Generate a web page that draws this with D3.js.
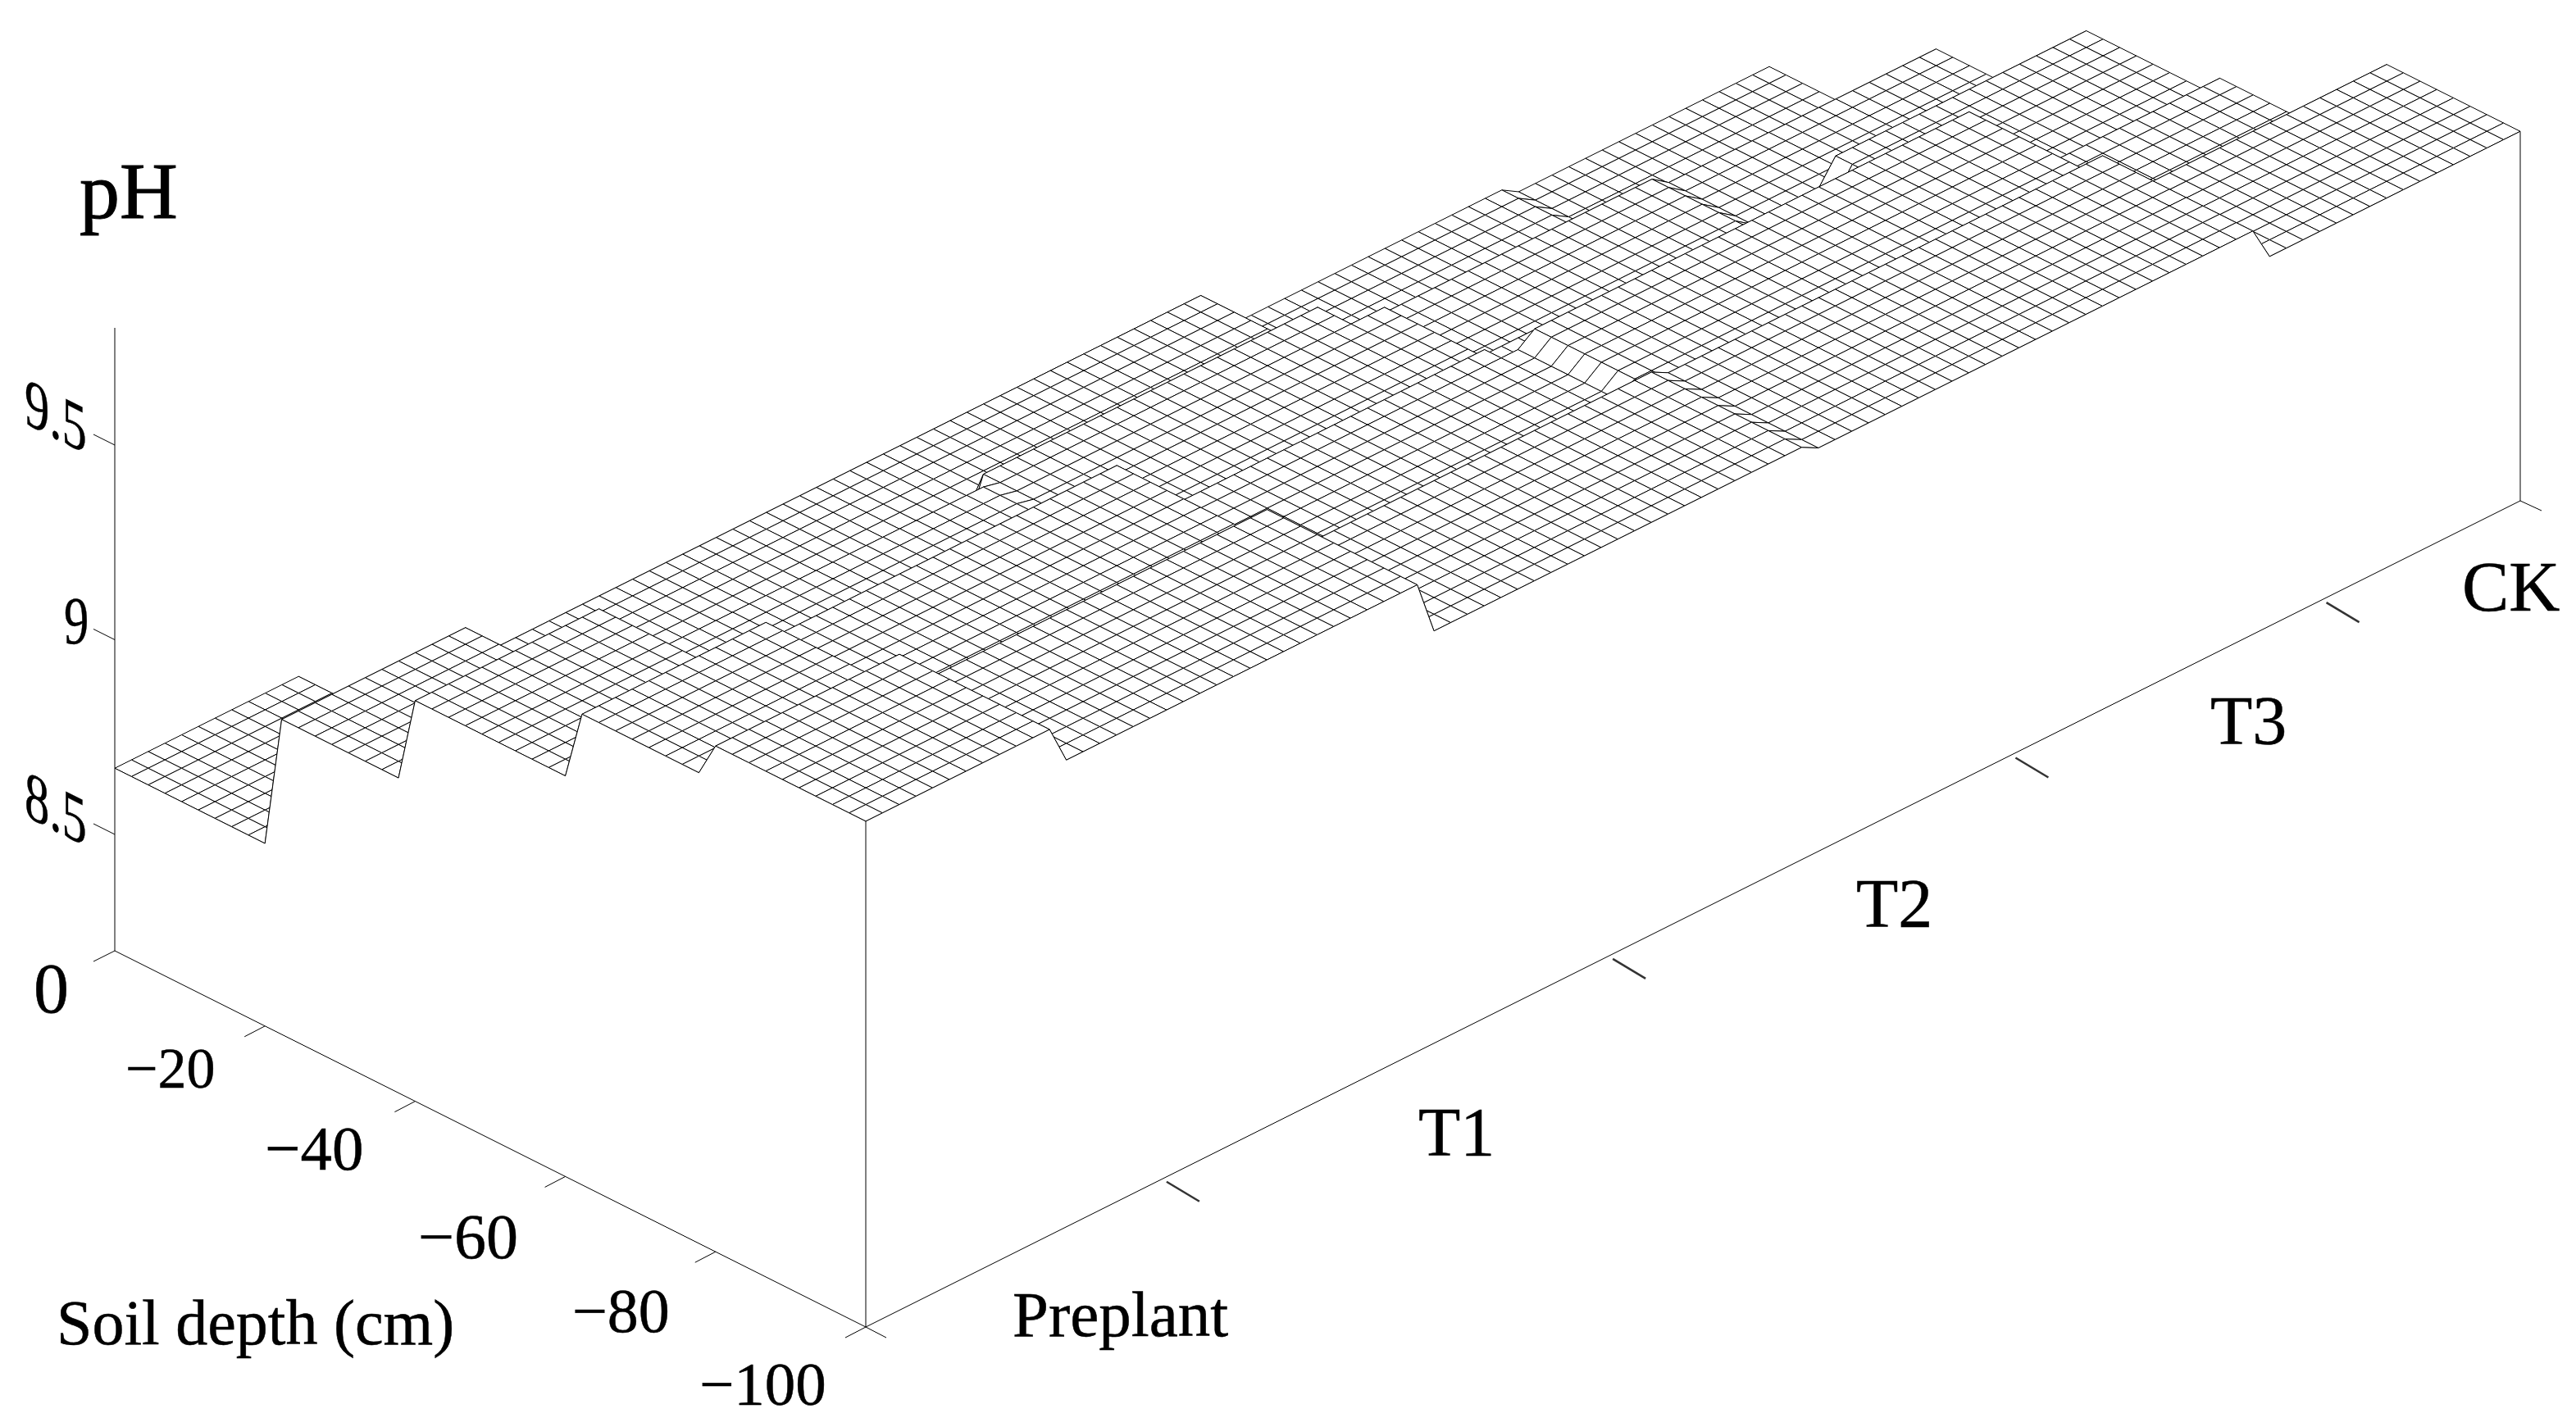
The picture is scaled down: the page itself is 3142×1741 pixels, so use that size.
<!DOCTYPE html>
<html>
<head>
<meta charset="utf-8">
<script src="https://cdnjs.cloudflare.com/ajax/libs/d3/7.8.5/d3.min.js"></script>
<style>
    html, body { margin: 0; padding: 0; background: #fff; }
    text { font-family: "Liberation Serif", serif; fill: #000; stroke: #000; stroke-width: 0.5; }
</style>
</head>
<body>
<div id="chart"></div>
<script>
const treatments = ["Preplant", "T1", "T2", "T3", "CK"];
const depth_ticks = [-20, -40, -60, -80, -100];
const ph_ticks = [8.5, 9, 9.5];

// pH, one value per soil layer (0-20 ... 80-100 cm)
const ph_preplant = [8.67, 9.01, 9.23, 9.41, 9.50];
const ph_t1 = [8.43, 8.92, 9.05, 9.32, 9.40];
const ph_t2 = [8.41, 8.92, 9.04, 9.146, 9.26];
const ph_t3 = [8.376, 8.64, 8.79, 9.178, 9.237];
const ph_ck = [8.35, 8.61, 8.85, 8.90, 9.15];
const ph_table = [ph_preplant, ph_t1, ph_t2, ph_t3, ph_ck];

// mesh line where each layer starts, per treatment
const layer_starts = [
    [10, 18, 28, 36],
    [10, 18, 27, 36],
    [10, 17, 27, 36],
    [10, 19, 28, 36],
    [10, 19, 27, 37]
];
// last mesh line of each treatment, per layer
const treatment_ends = [
    [11, 34, 55, 83],
    [11, 33, 55, 82],
    [11, 34, 57, 83],
    [11, 33, 56, 83],
    [11, 33, 56, 83]
];
const treatment_tick_lines = [18, 44.7, 68.8, 87.4];

const n_depth = 45;
const n_treat = 99;

const width = 3142;
const height = 1741;

const svg = d3.select("#chart").append("svg")
    .attr("width", width)
    .attr("height", height)
    .attr("viewBox", [0, 0, width, height]);

// oblique projection of the box
const origin = { x: 140, y: 1160 };
const depth_x = d3.scaleLinear([0, n_depth], [0, 916]);
const depth_y = d3.scaleLinear([0, n_depth], [0, 459]);
const treat_x = d3.scaleLinear([0, n_treat], [0, 2018]);
const treat_y = d3.scaleLinear([0, n_treat], [0, -1008]);
const ph_height = d3.scaleLinear([8.5, 9.5], [142, 617]);
const depth_line = d3.scaleLinear([0, -100], [0, n_depth]);

function project(i, j, h) {
    return [
        origin.x + depth_x(i) + treat_x(j),
        origin.y + depth_y(i) + treat_y(j) - h
    ];
}

function ph_at(i, j) {
    const t0 = d3.bisectLeft(treatment_ends[0], j);
    const layer = d3.bisectRight(layer_starts[t0], i);
    const t = d3.bisectLeft(treatment_ends[layer], j);
    return ph_table[t][layer];
}

function surface(i, j) {
    return project(i, j, ph_height(ph_at(i, j)));
}

// far cells first so the near ones hide them
const cells = [];
for (let i = 0; i < n_depth; i++) {
    for (let j = n_treat - 1; j >= 0; j--) {
        cells.push({ i: i, j: j });
    }
}

const line = d3.line();

svg.append("g")
    .selectAll("path")
    .data(cells)
    .join("path")
    .attr("d", d => line([
        surface(d.i, d.j),
        surface(d.i, d.j + 1),
        surface(d.i + 1, d.j + 1),
        surface(d.i + 1, d.j)
    ]) + "Z")
    .attr("fill", "#fff")
    .attr("stroke", "#000")
    .attr("stroke-width", 1);

// the two near sides of the block are plain white walls
const side_left = d3.range(0, n_depth + 1).map(i => surface(i, 0));
const side_front = d3.range(0, n_treat + 1).map(j => surface(n_depth, j));

svg.append("path")
    .attr("d", line(side_left.concat([project(n_depth, 0, 0), project(0, 0, 0)])) + "Z")
    .attr("fill", "#fff");
svg.append("path")
    .attr("d", line(side_front.concat([project(n_depth, n_treat, 0), project(n_depth, 0, 0)])) + "Z")
    .attr("fill", "#fff");

[side_left, side_front].forEach(p => {
    svg.append("path")
        .attr("d", line(p))
        .attr("fill", "none")
        .attr("stroke", "#000")
        .attr("stroke-width", 1);
});

// box edges
const axes = svg.append("g")
    .attr("fill", "none");

function seg(p, q, color, w) {
    axes.append("line")
        .attr("x1", p[0]).attr("y1", p[1])
        .attr("x2", q[0]).attr("y2", q[1])
        .attr("stroke", color || "#000")
        .attr("stroke-width", w || 1);
}

const corner_left = project(0, 0, 0);
const corner_front = project(n_depth, 0, 0);
const corner_right = project(n_depth, n_treat, 0);

seg(corner_left, corner_front);
seg(corner_front, corner_right);
seg(corner_left, project(0, 0, 760));
seg(corner_front, project(n_depth, 0, ph_height(ph_preplant[4])));
seg(corner_right, project(n_depth, n_treat, ph_height(ph_ck[4])));

// pH ticks
ph_ticks.forEach(v => {
    const p = project(0, 0, ph_height(v));
    seg(p, [p[0] - 26, p[1] - 13]);
});
seg(corner_left, [corner_left[0] - 26, corner_left[1] + 13]);

// depth ticks
depth_ticks.forEach(v => {
    const p = project(depth_line(v), 0, 0);
    seg(p, [p[0] - 25, p[1] + 13]);
});
seg(corner_front, [corner_front[0] + 25, corner_front[1] + 13]);

// treatment ticks sit a little off the axis, and are blurred in the source
treatment_tick_lines.forEach(v => {
    const p = project(n_depth, v, 0);
    seg([p[0], p[1] + 6], [p[0] + 40, p[1] + 30], "#333", 2.5);
});
seg(corner_right, [corner_right[0] + 26, corner_right[1] + 12]);

// text
function label(txt, x, y, size, transform) {
    const t = svg.append("text")
        .attr("x", x)
        .attr("y", y)
        .attr("font-size", size)
        .text(txt);
    if (transform) t.attr("transform", transform);
    return t;
}

label("pH", 97, 266, 98).style("stroke-width", 1);
label("Soil depth (cm)", 69, 1640, 78);

const ph_label_pos = [[30, 995], [78, 785], [30, 516]];
ph_ticks.forEach((v, k) => {
    const p = ph_label_pos[k];
    const skew = k === 1 ? "" : " skewY(26.5)";
    label(String(v), 0, 0, 83, "translate(" + p[0] + "," + p[1] + ")" + skew + " scale(0.73,1)");
});
label("0", 41, 1235, 86);

const depth_label_pos = [[153, 1327, 70], [323, 1427, 77], [510, 1535, 78], [698, 1625, 76], [853, 1714, 75]];
depth_ticks.forEach((v, k) => {
    const p = depth_label_pos[k];
    label("\u2212" + Math.abs(v), p[0], p[1], p[2]);
});

const treat_label_pos = [[1235, 1630, 79], [1730, 1410, 84], [2264, 1131, 84], [2696, 908, 84], [3003, 745, 86]];
treatments.forEach((v, k) => {
    const p = treat_label_pos[k];
    label(v, p[0], p[1], p[2]);
});
</script>
</body>
</html>
